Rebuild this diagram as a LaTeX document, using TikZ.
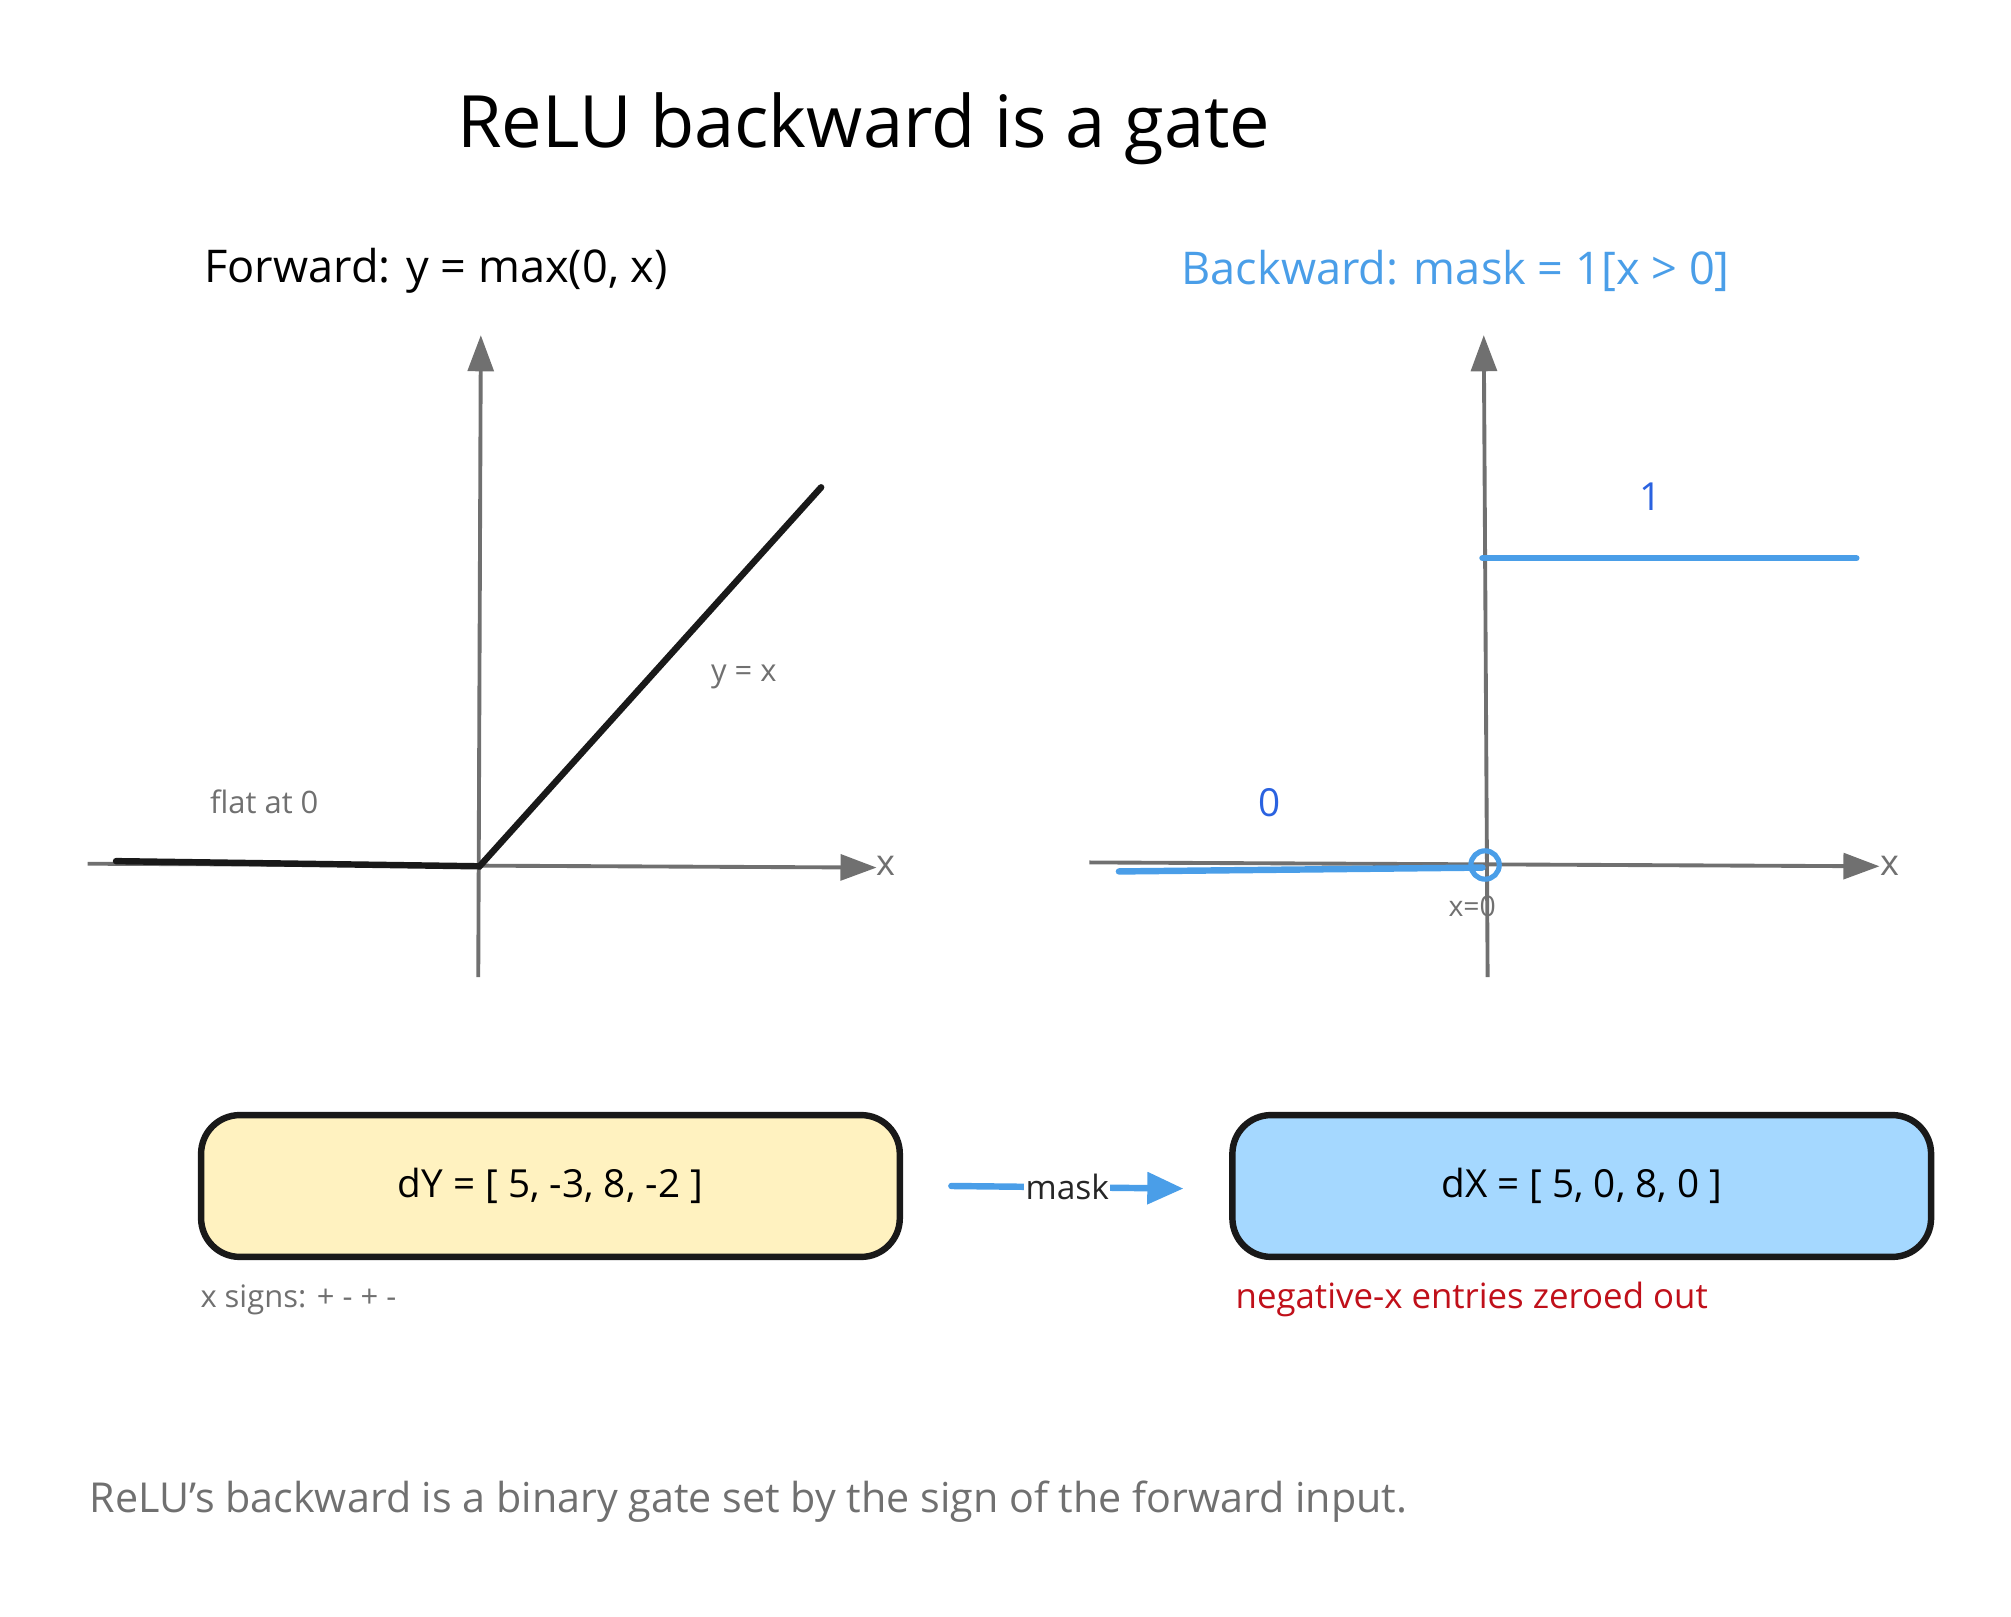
\documentclass[tikz,border=0pt]{standalone}
\usepackage{fontspec}
\setmainfont{Open Sans}
\usetikzlibrary{arrows.meta}
\definecolor{ax}{HTML}{707070}
\definecolor{bl}{HTML}{4A9EE8}
\definecolor{dbl}{HTML}{2A62E0}
\definecolor{yel}{HTML}{FFF2C0}
\definecolor{lbl}{HTML}{A5D8FF}
\definecolor{rd}{HTML}{C0101A}
\begin{document}
\begin{tikzpicture}[x=1pt,y=-1pt,
 axis/.style={ax,line width=3pt,-{Triangle[length=28pt,width=20pt]}},
 gl/.style={ax,font=\fontsize{24}{28}\selectfont},
 box/.style={draw=black!90,line width=5pt,rounded corners=30pt,minimum width=542pt,minimum height=110pt,font=\fontsize{30}{36}\selectfont}]
\useasboundingbox (0,0) rectangle (1560,1254);
\node (title) at (670,100) {\fontsize{56}{64}\selectfont ReLU backward is a gate};
\node[anchor=west] (fw) at (155,210) {\fontsize{35}{40}\selectfont Forward: y = max(0, x)};
\node[anchor=west,bl] (bw) at (913,210) {\fontsize{35}{40}\selectfont Backward: mask = 1[x > 0]};
% left axes
\coordinate (lo) at (372,672);
\coordinate (lvb) at (371,758); \coordinate (lvt) at (373,260);
\coordinate (lhl) at (68,670); \coordinate (lhr) at (680,673);
\draw[axis] (lvb) -- (lvt);
\draw[axis] (lhl) -- (lhr);
\node[gl,anchor=west] (lx) at (676,672) {\fontsize{28}{30}\selectfont x};
\coordinate (rl0) at (90,668); \coordinate (rl1) at (637,378);
\draw[black!90,line width=5pt,line cap=round] (rl0) -- (lo) -- (rl1);
\node[gl] (yx) at (577,525) {y = x};
\node[gl] (flat) at (205,622) {flat at 0};
% right axes
\coordinate (ro) at (1152,671);
\coordinate (rvb) at (1154,758); \coordinate (rvt) at (1151,260);
\coordinate (rhl) at (845,669); \coordinate (rhr) at (1458,672);
\draw[axis] (rvb) -- (rvt);
\draw[axis] (rhl) -- (rhr);
\node[gl,anchor=west] (rx) at (1455,672) {\fontsize{28}{30}\selectfont x};
\coordinate (b0a) at (868,676); \coordinate (b0b) at (1150,673);
\coordinate (b1a) at (1150,433); \coordinate (b1b) at (1440,433);
\draw[bl,line width=5pt,line cap=round] (b0a) -- (b0b);
\draw[bl,line width=5pt,line cap=round] (b1a) -- (b1b);
\draw[bl,line width=4pt] (ro) circle (11pt);
\node[dbl] (one) at (1280,385) {\fontsize{30}{34}\selectfont 1};
\node[dbl] (zero) at (985,623) {\fontsize{30}{34}\selectfont 0};
\node[gl] (x0) at (1142,703) {\fontsize{22}{26}\selectfont x=0};
% boxes
\node[box,fill=yel] (dy) at (427,920) {dY = [ 5, -3, 8, -2 ]};
\node[box,fill=lbl] (dx) at (1227,920) {dX = [ 5, 0, 8, 0 ]};
\coordinate (ma) at (738,920); \coordinate (mb) at (918,922);
\draw[bl,line width=5pt,line cap=round,-{Triangle[length=28pt,width=24pt]}] (ma) -- (mb) node[midway,black!85,font=\fontsize{26}{30}\selectfont,fill=white,inner sep=1pt] (mk) {mask};
\node[gl,anchor=west] (sg) at (152,1008) {x signs: + - + -};
\node[rd,anchor=west,font=\fontsize{27}{30}\selectfont] (neg) at (955,1008) {negative-x entries zeroed out};
\node[gl,anchor=west,font=\fontsize{32}{36}\selectfont] (foot) at (66,1165) {ReLU's backward is a binary gate set by the sign of the forward input.};
\end{tikzpicture}
\end{document}
